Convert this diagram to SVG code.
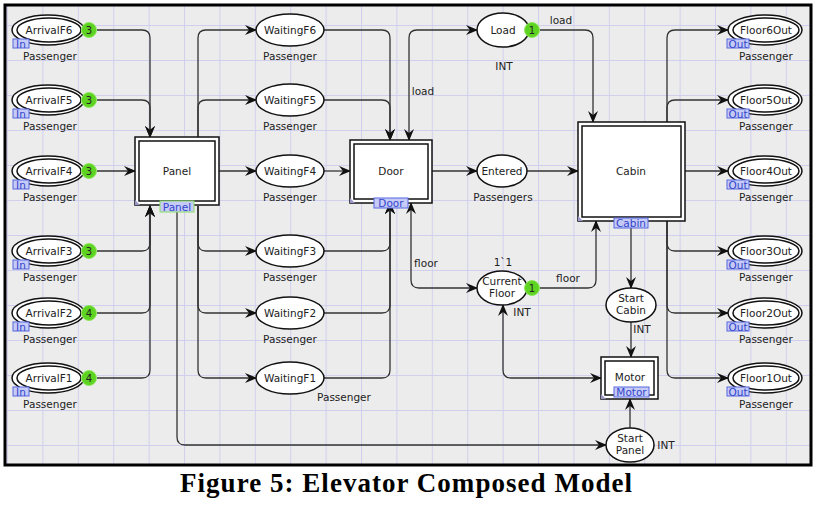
<svg xmlns="http://www.w3.org/2000/svg" width="815" height="505" viewBox="0 0 815 505">
<defs>
<pattern id="grid" patternUnits="userSpaceOnUse" x="7" y="25" width="35.4" height="35">
<rect width="35.4" height="35" fill="#ececec"/>
<path d="M0.5,0 V35 M0,0.5 H35.4" stroke="#d0d0ee" stroke-width="1" fill="none"/>
</pattern>
<marker id="ah" viewBox="0 0 12 10" refX="11" refY="5" markerWidth="12" markerHeight="10" markerUnits="userSpaceOnUse" orient="auto-start-reverse">
<path d="M0,0 L12,5 L0,10 L4,5 Z" fill="#111"/>
</marker>
</defs>
<style>
.lbl{font-family:"DejaVu Sans",Verdana,sans-serif;font-size:10.5px;fill:#222;text-anchor:middle}
.pl{fill:#fff;stroke:#111;stroke-width:1.5}
.tk{fill:#5fd322;stroke:#8fe860;stroke-width:1}
.tkt{font-family:"DejaVu Sans",sans-serif;font-size:10px;fill:#222;text-anchor:middle}
.tag{fill:#c5cbf6;stroke:#5566dd;stroke-width:1}
.tagt{font-family:"DejaVu Sans",sans-serif;font-size:10.5px;fill:#3344cc;text-anchor:middle}
.arc{fill:none;stroke:#333;stroke-width:1.3;marker-end:url(#ah)}
.bi{marker-start:url(#ah)}
.tr{fill:#fff;stroke:#111;stroke-width:1.5}
</style>
<rect width="815" height="505" fill="#fff"/>
<rect x="5" y="5" width="806" height="460" fill="url(#grid)" stroke="#000" stroke-width="3"/>

<g id="connectors">
<path class="arc" d="M97,30 H142 Q150,30 150,38 V137"/>
<path class="arc" d="M97,100 H142 Q150,100 150,108 V137"/>
<path class="arc" d="M97,171 H135"/>
<path class="arc" d="M97,251 H142 Q150,251 150,243 V206"/>
<path class="arc" d="M97,313 H142 Q150,313 150,305 V206"/>
<path class="arc" d="M97,378 H142 Q150,378 150,370 V206"/>
<path class="arc" d="M198,137 V38 Q198,30 206,30 H256"/>
<path class="arc" d="M198,137 V108 Q198,100 206,100 H256"/>
<path class="arc" d="M219,171 H256"/>
<path class="arc" d="M198,206 V243 Q198,251 206,251 H256"/>
<path class="arc" d="M198,206 V305 Q198,313 206,313 H256"/>
<path class="arc" d="M198,206 V370 Q198,378 206,378 H256"/>
<path class="arc" d="M177,206 V437 Q177,445 185,445 H606"/>
<path class="arc" d="M324,30 H382 Q390,30 390,38 V140"/>
<path class="arc" d="M324,100 H382 Q390,100 390,108 V140"/>
<path class="arc" d="M324,171 H350"/>
<path class="arc" d="M324,251 H382 Q390,251 390,243 V203"/>
<path class="arc" d="M324,313 H382 Q390,313 390,305 V203"/>
<path class="arc" d="M324,378 H382 Q390,378 390,370 V203"/>
<path class="arc bi" d="M409,140 V38 Q409,30 417,30 H477"/>
<text class="lbl" x="423" y="95">load</text>
<path class="arc bi" d="M411,203 V280 Q411,288 419,288 H477"/>
<text class="lbl" x="426" y="267">floor</text>
<path class="arc" d="M432,171 H477"/>
<path class="arc" d="M527,171 H578"/>
<path class="arc" d="M540,30 H585 Q593,30 593,38 V122"/>
<text class="lbl" x="561" y="24">load</text>
<path class="arc" d="M540,288 H588 Q596,288 596,280 V221"/>
<text class="lbl" x="568" y="282">floor</text>
<path class="arc bi" d="M503,305 V370 Q503,378 511,378 H601"/>
<path class="arc" d="M631,221 V288"/>
<path class="arc" d="M631,322 V357"/>
<path class="arc" d="M630,428 V399"/>
<path class="arc" d="M667,122 V38 Q667,30 675,30 H728"/>
<path class="arc" d="M667,122 V108 Q667,100 675,100 H728"/>
<path class="arc" d="M685,171 H728"/>
<path class="arc" d="M667,221 V243 Q667,251 675,251 H728"/>
<path class="arc" d="M667,221 V305 Q667,313 675,313 H728"/>
<path class="arc" d="M667,221 V370 Q667,378 675,378 H728"/>
</g>

<g id="ArrivalF6">
<ellipse class="pl" cx="48" cy="30" rx="36" ry="15"/><ellipse class="pl" cx="49" cy="30" rx="32" ry="12"/>
<text class="lbl" x="49" y="34">ArrivalF6</text>
<circle class="tk" cx="89" cy="30" r="7.5"/><text class="tkt" x="89" y="34">3</text>
<rect class="tag" x="13" y="39" width="16" height="9"/><text class="tagt" x="21" y="47.5">In</text>
<text class="lbl" x="50" y="60">Passenger</text>
</g>
<g id="ArrivalF5">
<ellipse class="pl" cx="48" cy="100" rx="36" ry="15"/><ellipse class="pl" cx="49" cy="100" rx="32" ry="12"/>
<text class="lbl" x="49" y="104">ArrivalF5</text>
<circle class="tk" cx="89" cy="100" r="7.5"/><text class="tkt" x="89" y="104">3</text>
<rect class="tag" x="13" y="109" width="16" height="9"/><text class="tagt" x="21" y="117.5">In</text>
<text class="lbl" x="50" y="130">Passenger</text>
</g>
<g id="ArrivalF4">
<ellipse class="pl" cx="48" cy="171" rx="36" ry="15"/><ellipse class="pl" cx="49" cy="171" rx="32" ry="12"/>
<text class="lbl" x="49" y="175">ArrivalF4</text>
<circle class="tk" cx="89" cy="171" r="7.5"/><text class="tkt" x="89" y="175">3</text>
<rect class="tag" x="13" y="180" width="16" height="9"/><text class="tagt" x="21" y="188.5">In</text>
<text class="lbl" x="50" y="201">Passenger</text>
</g>
<g id="ArrivalF3">
<ellipse class="pl" cx="48" cy="251" rx="36" ry="15"/><ellipse class="pl" cx="49" cy="251" rx="32" ry="12"/>
<text class="lbl" x="49" y="255">ArrivalF3</text>
<circle class="tk" cx="89" cy="251" r="7.5"/><text class="tkt" x="89" y="255">3</text>
<rect class="tag" x="13" y="260" width="16" height="9"/><text class="tagt" x="21" y="268.5">In</text>
<text class="lbl" x="50" y="281">Passenger</text>
</g>
<g id="ArrivalF2">
<ellipse class="pl" cx="48" cy="313" rx="36" ry="15"/><ellipse class="pl" cx="49" cy="313" rx="32" ry="12"/>
<text class="lbl" x="49" y="317">ArrivalF2</text>
<circle class="tk" cx="89" cy="313" r="7.5"/><text class="tkt" x="89" y="317">4</text>
<rect class="tag" x="13" y="322" width="16" height="9"/><text class="tagt" x="21" y="330.5">In</text>
<text class="lbl" x="50" y="343">Passenger</text>
</g>
<g id="ArrivalF1">
<ellipse class="pl" cx="48" cy="378" rx="36" ry="15"/><ellipse class="pl" cx="49" cy="378" rx="32" ry="12"/>
<text class="lbl" x="49" y="382">ArrivalF1</text>
<circle class="tk" cx="89" cy="378" r="7.5"/><text class="tkt" x="89" y="382">4</text>
<rect class="tag" x="13" y="387" width="16" height="9"/><text class="tagt" x="21" y="395.5">In</text>
<text class="lbl" x="50" y="408">Passenger</text>
</g>

<g id="Panel">
<rect class="tr" x="135" y="137" width="84" height="68"/><rect class="tr" x="139" y="141" width="76" height="60"/>
<path d="M135,205 V200 L140,205 Z" fill="#9a98c8"/>
<text class="lbl" x="177" y="175">Panel</text>
<rect class="tag" x="160" y="201" width="34" height="11" style="stroke:#88dd66"/><text class="tagt" x="177" y="210.5">Panel</text>
</g>

<g id="WaitingF6"><ellipse class="pl" cx="290" cy="30" rx="34" ry="16"/><text class="lbl" x="290" y="34">WaitingF6</text><text class="lbl" x="290" y="60">Passenger</text></g>
<g id="WaitingF5"><ellipse class="pl" cx="290" cy="100" rx="34" ry="16"/><text class="lbl" x="290" y="104">WaitingF5</text><text class="lbl" x="290" y="130">Passenger</text></g>
<g id="WaitingF4"><ellipse class="pl" cx="290" cy="171" rx="34" ry="16"/><text class="lbl" x="290" y="175">WaitingF4</text><text class="lbl" x="290" y="201">Passenger</text></g>
<g id="WaitingF3"><ellipse class="pl" cx="290" cy="251" rx="34" ry="16"/><text class="lbl" x="290" y="255">WaitingF3</text><text class="lbl" x="290" y="281">Passenger</text></g>
<g id="WaitingF2"><ellipse class="pl" cx="290" cy="313" rx="34" ry="16"/><text class="lbl" x="290" y="317">WaitingF2</text><text class="lbl" x="290" y="343">Passenger</text></g>
<g id="WaitingF1"><ellipse class="pl" cx="290" cy="378" rx="34" ry="16"/><text class="lbl" x="290" y="382">WaitingF1</text><text class="lbl" x="344" y="401">Passenger</text></g>

<g id="Door">
<rect class="tr" x="350" y="140" width="82" height="63"/><rect class="tr" x="354" y="144" width="74" height="55"/>
<path d="M350,203 V198 L355,203 Z" fill="#9a98c8"/>
<text class="lbl" x="391" y="175">Door</text>
<rect class="tag" x="374" y="198" width="34" height="10"/><text class="tagt" x="391" y="207">Door</text>
</g>

<g id="Load">
<ellipse class="pl" cx="503" cy="30" rx="26" ry="17"/><text class="lbl" x="503" y="34">Load</text>
<circle class="tk" cx="532" cy="30" r="7.5"/><text class="tkt" x="532" y="34">1</text>
<text class="lbl" x="504" y="70">INT</text>
</g>

<g id="Entered">
<ellipse class="pl" cx="502" cy="171" rx="25" ry="16"/><text class="lbl" x="502" y="175">Entered</text>
<text class="lbl" x="503" y="201">Passengers</text>
</g>

<g id="CurrentFloor">
<ellipse class="pl" cx="502" cy="288" rx="25" ry="17"/>
<text class="lbl" x="502" y="285">Current</text><text class="lbl" x="502" y="297">Floor</text>
<circle class="tk" cx="532" cy="288" r="7.5"/><text class="tkt" x="532" y="292">1</text>
<text class="lbl" x="503" y="266">1`1</text>
<text class="lbl" x="522" y="316">INT</text>
</g>

<g id="Cabin">
<rect class="tr" x="578" y="122" width="107" height="99"/><rect class="tr" x="582" y="126" width="99" height="91"/>
<path d="M578,221 V216 L583,221 Z" fill="#9a98c8"/>
<text class="lbl" x="631" y="175">Cabin</text>
<rect class="tag" x="614" y="218" width="34" height="10"/><text class="tagt" x="631" y="227">Cabin</text>
</g>

<g id="StartCabin">
<ellipse class="pl" cx="631" cy="305" rx="25" ry="17"/>
<text class="lbl" x="631" y="302">Start</text><text class="lbl" x="631" y="314">Cabin</text>
<text class="lbl" x="642" y="333">INT</text>
</g>

<g id="Motor">
<rect class="tr" x="601" y="357" width="57" height="42"/><rect class="tr" x="605" y="361" width="49" height="34"/>
<path d="M601,399 V394 L606,399 Z" fill="#9a98c8"/>
<text class="lbl" x="630" y="381">Motor</text>
<rect class="tag" x="614" y="387" width="35" height="10"/><text class="tagt" x="631.5" y="396">Motor</text>
</g>

<g id="StartPanel">
<ellipse class="pl" cx="630" cy="445" rx="24" ry="17"/>
<text class="lbl" x="630" y="442">Start</text><text class="lbl" x="630" y="454">Panel</text>
<text class="lbl" x="666" y="449">INT</text>
</g>

<g id="Floor6Out">
<ellipse class="pl" cx="765" cy="30" rx="37" ry="15"/><ellipse class="pl" cx="766" cy="30" rx="33" ry="12"/>
<text class="lbl" x="766" y="34">Floor6Out</text>
<rect class="tag" x="727" y="39" width="22" height="9"/><text class="tagt" x="738" y="47.5">Out</text>
<text class="lbl" x="766" y="60">Passenger</text>
</g>
<g id="Floor5Out">
<ellipse class="pl" cx="765" cy="100" rx="37" ry="15"/><ellipse class="pl" cx="766" cy="100" rx="33" ry="12"/>
<text class="lbl" x="766" y="104">Floor5Out</text>
<rect class="tag" x="727" y="109" width="22" height="9"/><text class="tagt" x="738" y="117.5">Out</text>
<text class="lbl" x="766" y="130">Passenger</text>
</g>
<g id="Floor4Out">
<ellipse class="pl" cx="765" cy="171" rx="37" ry="15"/><ellipse class="pl" cx="766" cy="171" rx="33" ry="12"/>
<text class="lbl" x="766" y="175">Floor4Out</text>
<rect class="tag" x="727" y="180" width="22" height="9"/><text class="tagt" x="738" y="188.5">Out</text>
<text class="lbl" x="766" y="201">Passenger</text>
</g>
<g id="Floor3Out">
<ellipse class="pl" cx="765" cy="251" rx="37" ry="15"/><ellipse class="pl" cx="766" cy="251" rx="33" ry="12"/>
<text class="lbl" x="766" y="255">Floor3Out</text>
<rect class="tag" x="727" y="260" width="22" height="9"/><text class="tagt" x="738" y="268.5">Out</text>
<text class="lbl" x="766" y="281">Passenger</text>
</g>
<g id="Floor2Out">
<ellipse class="pl" cx="765" cy="313" rx="37" ry="15"/><ellipse class="pl" cx="766" cy="313" rx="33" ry="12"/>
<text class="lbl" x="766" y="317">Floor2Out</text>
<rect class="tag" x="727" y="322" width="22" height="9"/><text class="tagt" x="738" y="330.5">Out</text>
<text class="lbl" x="766" y="343">Passenger</text>
</g>
<g id="Floor1Out">
<ellipse class="pl" cx="765" cy="378" rx="37" ry="15"/><ellipse class="pl" cx="766" cy="378" rx="33" ry="12"/>
<text class="lbl" x="766" y="382">Floor1Out</text>
<rect class="tag" x="727" y="387" width="22" height="9"/><text class="tagt" x="738" y="395.5">Out</text>
<text class="lbl" x="766" y="408">Passenger</text>
</g>

<text x="406" y="492" font-family="'Liberation Serif','Times New Roman',serif" font-weight="bold" font-size="27" text-anchor="middle" textLength="452" lengthAdjust="spacing" fill="#000">Figure 5: Elevator Composed Model</text>
</svg>
